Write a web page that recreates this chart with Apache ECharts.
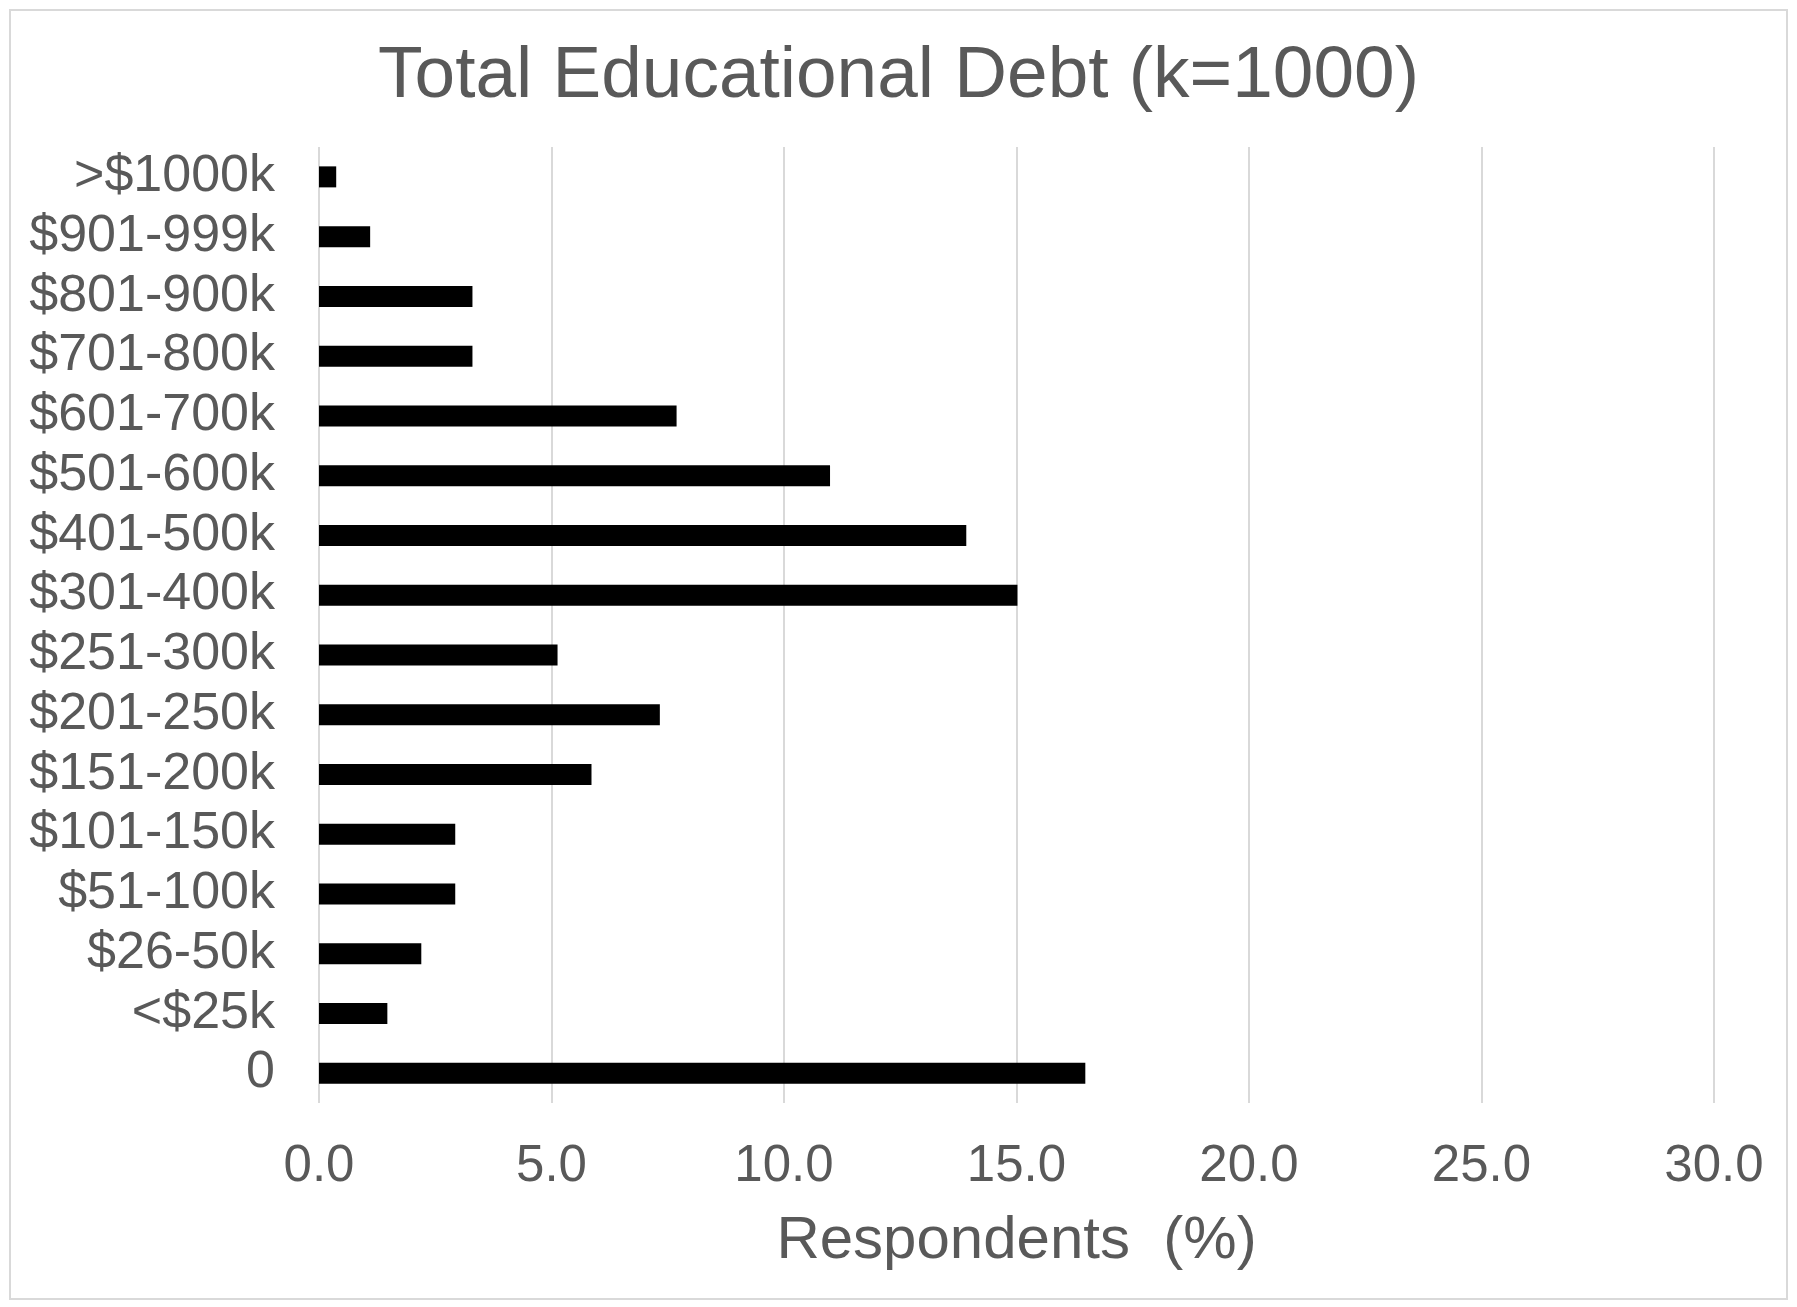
<!DOCTYPE html>
<html>
<head>
<meta charset="utf-8">
<script src="https://cdn.jsdelivr.net/npm/echarts@6/dist/echarts.min.js"></script>
<style>
html,body{margin:0;padding:0;background:#fff;}
#chart{width:1797px;height:1307px;}
</style>
</head>
<body>
<div id="chart"></div>
<script>
var categories = ['0', '<$25k', '$26-50k', '$51-100k', '$101-150k', '$151-200k', '$201-250k', '$251-300k', '$301-400k', '$401-500k', '$501-600k', '$601-700k', '$701-800k', '$801-900k', '$901-999k', '>$1000k'];
var respondentsPct = [16.48, 1.47, 2.20, 2.93, 2.93, 5.86, 7.33, 5.13, 15.02, 13.92, 10.99, 7.69, 3.30, 3.30, 1.10, 0.37];
var xTicks = [0, 5, 10, 15, 20, 25, 30];
var titleText = 'Total Educational Debt (k=1000)';
var xName = 'Respondents  (%)';

var chart = echarts.init(document.getElementById('chart'), null, {renderer: 'canvas'});
var font = '"Liberation Sans", Arial, sans-serif';
chart.setOption({
  animation: false,
  backgroundColor: '#ffffff',
  graphic: [{
    type: 'rect',
    shape: {x: 10, y: 10, width: 1777, height: 1289},
    style: {fill: 'none', stroke: '#d9d9d9', lineWidth: 2},
    silent: true
  }],
  title: {
    text: titleText,
    left: 'center',
    top: 35,
    textStyle: {fontFamily: font, fontSize: 73, fontWeight: 'normal', color: '#595959'}
  },
  grid: {left: 319, right: 83, top: 147, bottom: 204, containLabel: false},
  xAxis: {
    type: 'value',
    min: xTicks[0],
    max: xTicks[xTicks.length - 1],
    interval: 5,
    name: xName,
    nameLocation: 'middle',
    nameGap: 108,
    nameTextStyle: {fontFamily: font, fontSize: 60, color: '#595959'},
    axisLine: {show: false},
    axisTick: {show: false},
    axisLabel: {fontFamily: font, fontSize: 51, color: '#595959', margin: 38,
      formatter: function (v) { return v.toFixed(1); }},
    splitLine: {show: true, lineStyle: {color: '#d9d9d9', width: 2}}
  },
  yAxis: {
    type: 'category',
    data: categories,
    axisLine: {show: false},
    axisTick: {show: false},
    axisLabel: {fontFamily: font, fontSize: 52, color: '#595959', margin: 44, interval: 0},
    splitLine: {show: false}
  },
  series: [{
    type: 'bar',
    data: respondentsPct,
    barWidth: 21,
    itemStyle: {color: '#000000'}
  }]
});
</script>
</body>
</html>
